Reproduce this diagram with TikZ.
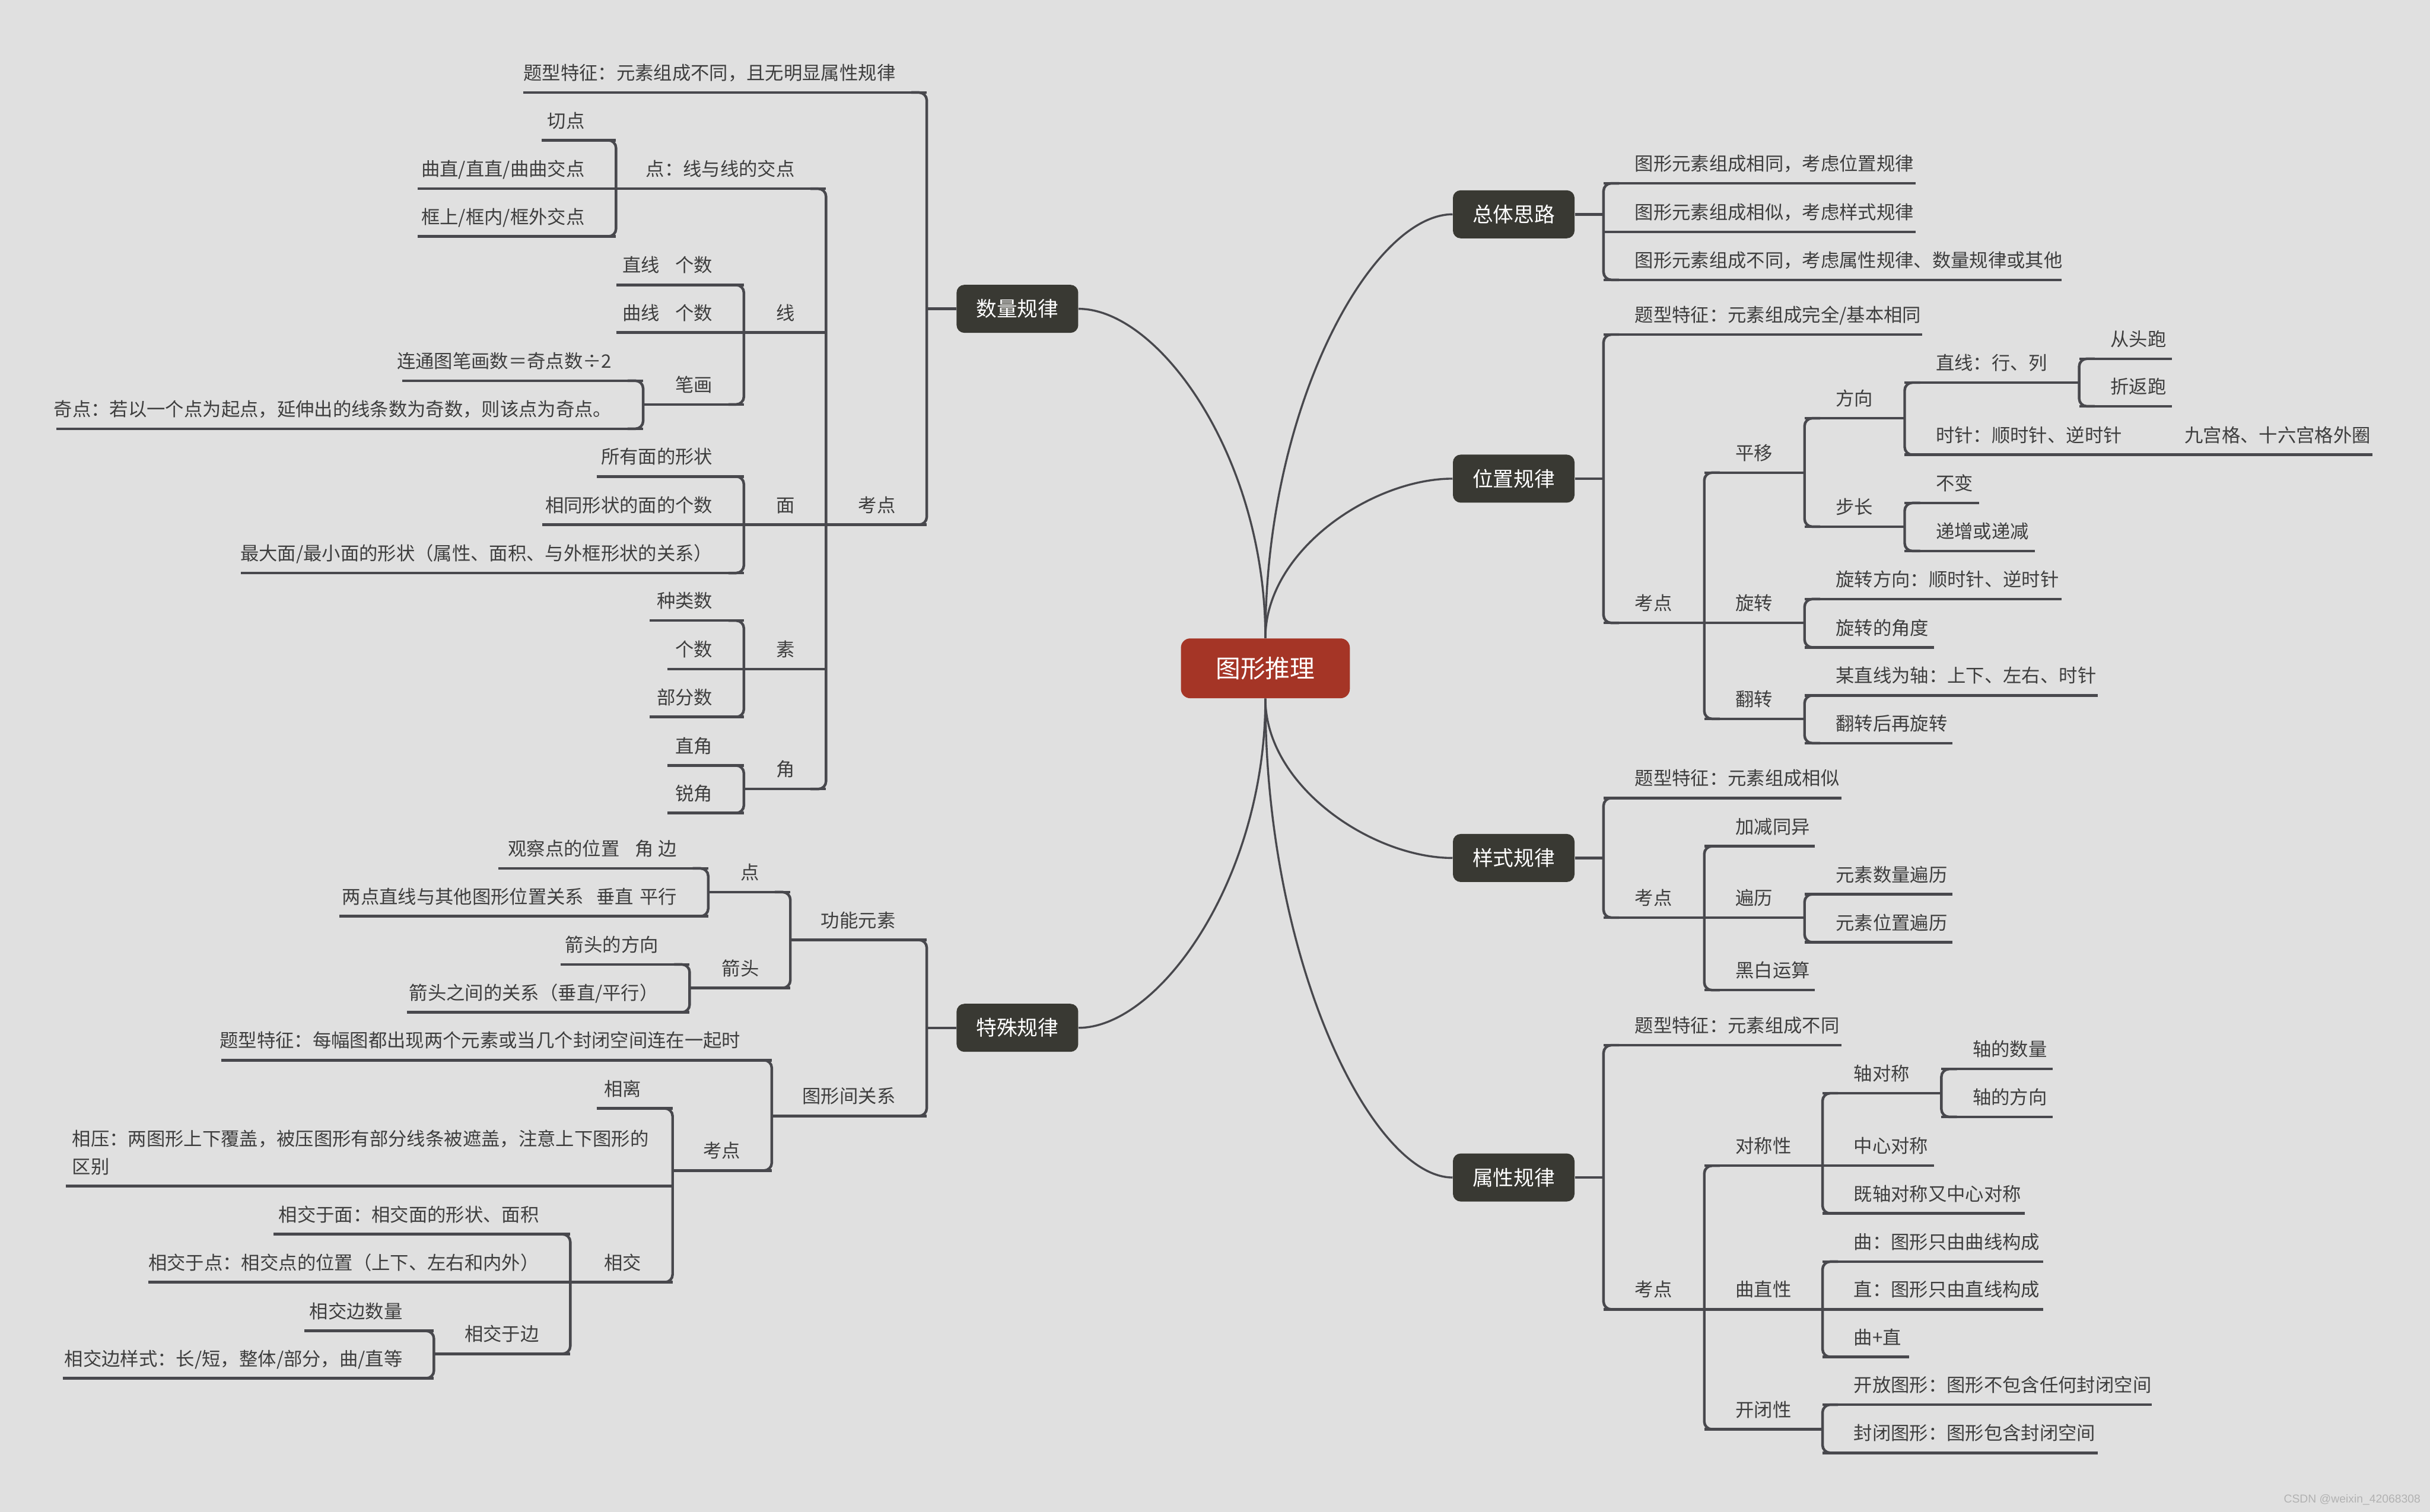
\documentclass[tikz,border=0pt]{standalone}
\usepackage{fontspec}
\setmainfont{Noto Sans CJK SC}
\newfontfamily\wmfont{Liberation Sans}
\usetikzlibrary{calc}
\setlength{\parindent}{0pt}
\definecolor{bgc}{RGB}{224,224,224}
\definecolor{linec}{RGB}{72,72,77}
\definecolor{txtc}{RGB}{62,62,62}
\definecolor{boxc}{RGB}{57,57,51}
\definecolor{rootc}{RGB}{165,53,38}
\definecolor{wmc}{RGB}{178,178,178}
\pgfdeclarelayer{bglayer}
\pgfdeclarelayer{edgelayer}
\pgfsetlayers{bglayer,edgelayer,main}
\tikzset{
  topicbase/.style={inner xsep=0pt, inner ysep=0pt, text depth=8pt, font=\fontsize{12}{18}\selectfont, text=txtc},
  rtopic/.style={topicbase, anchor=south west},
  ltopic/.style={topicbase, anchor=south east},
  uline/.style={draw=linec, line width=1.7pt},
  curveline/.style={draw=linec, line width=1.3pt},
  mainbox/.style={fill=boxc, rounded corners=5pt, minimum width=78.5pt, minimum height=31pt, inner sep=0pt, text=white, font=\fontsize{13.3}{16}\selectfont},
  rootbox/.style={fill=rootc, rounded corners=6pt, minimum width=109pt, minimum height=38.6pt, inner sep=0pt, text=white, font=\fontsize{16}{20}\selectfont},
}
% right-side topic: name, bracket x, underline y, right end x, text
\newcommand{\rtp}[5]{\pgfmathsetmacro{\mytw}{#4-(#2)}%
  \node[rtopic] (#1) at (#2,#3) {\makebox[\mytw pt][l]{\kern20pt #5}};
  \draw[uline] (#1.south west) -- (#1.south east);}
% left-side topic: name, left end x, underline y, bracket x, text
\newcommand{\ltp}[5]{\pgfmathsetmacro{\mytw}{#4-(#2)}%
  \node[ltopic] (#1) at (#4,#3) {\makebox[\mytw pt][r]{#5\kern20pt}};
  \draw[uline] (#1.south west) -- (#1.south east);}
\newcommand{\rbr}[2]{\draw[uline, rounded corners=5pt] ($(#1.south west)+(10,0)$) -- (#1.south west) -- (#2.south west) -- ($(#2.south west)+(10,0)$);}
\newcommand{\lbr}[2]{\draw[uline, rounded corners=5pt] ($(#1.south east)+(-10,0)$) -- (#1.south east) -- (#2.south east) -- ($(#2.south east)+(-10,0)$);}
\newcommand{\mcurve}[2]{\draw[curveline] (#1) .. controls ($(#1)!0.55!(#1|-#2)$) and ($(#1|-#2)!0.57!(#2)$) .. (#2);}

\begin{document}
\begin{tikzpicture}[x=1pt, y=-1pt]
\useasboundingbox (0,0) rectangle (1568,975.6);
\begin{pgfonlayer}{bglayer}
\fill[bgc] (0,0) rectangle (1568,975.6);
\end{pgfonlayer}

% root and main topics
\node[rootbox] (root) at (816.5,431.3) {图形推理};
\node[mainbox] (m1) at (656.5,199.3) {数量规律};
\node[mainbox] (m4) at (656.5,663.3) {特殊规律};
\node[mainbox] (m2) at (976.75,138.3) {总体思路};
\node[mainbox] (m3) at (976.75,308.9) {位置规律};
\node[mainbox] (m5) at (976.75,553.7) {样式规律};
\node[mainbox] (m6) at (976.75,759.9) {属性规律};

\begin{pgfonlayer}{edgelayer}
\mcurve{root.north}{m1.east}
\mcurve{root.north}{m2.west}
\mcurve{root.north}{m3.west}
\mcurve{root.south}{m4.east}
\mcurve{root.south}{m5.west}
\mcurve{root.south}{m6.west}
\end{pgfonlayer}

% ===== 数量规律 =====
\ltp{q1}{338}{59.7}{598}{题型特征：元素组成不同，且无明显属性规律}
\ltp{qk}{533}{338.6}{598}{考点}
\ltp{qd}{397.5}{121.8}{533}{点：线与线的交点}
\ltp{qd1}{350}{90.5}{397.5}{切点}
\ltp{qd2}{270}{121.8}{397.5}{曲直/直直/曲曲交点}
\ltp{qd3}{270}{152.6}{397.5}{框上/框内/框外交点}
\ltp{qx}{480}{214.6}{533}{线}
\ltp{qx1}{398}{183.9}{480}{直线\kern10pt 个数}
\ltp{qx2}{398}{214.6}{480}{曲线\kern10pt 个数}
\ltp{qx3}{415}{261}{480}{笔画}
\ltp{qx31}{260}{245.7}{415}{连通图笔画数＝奇点数÷2}
\ltp{qx32}{36.8}{276.7}{415}{奇点：若以一个点为起点，延伸出的线条数为奇数，则该点为奇点。}
\ltp{qm}{480}{338.6}{533}{面}
\ltp{qm1}{385.4}{307.5}{480}{所有面的形状}
\ltp{qm2}{350.2}{338.6}{480}{相同形状的面的个数}
\ltp{qm3}{156}{369.8}{480}{最大面/最小面的形状（属性、面积、与外框形状的关系）}
\ltp{qs}{480}{431.7}{533}{素}
\ltp{qs1}{419.6}{400.5}{480}{种类数}
\ltp{qs2}{431}{431.7}{480}{个数}
\ltp{qs3}{419.6}{462.7}{480}{部分数}
\ltp{qj}{480}{509.2}{533}{角}
\ltp{qj1}{431}{494}{480}{直角}
\ltp{qj2}{431}{524.7}{480}{锐角}
\draw[uline] (m1.west) -- (m1.west -| q1.south east);
\lbr{q1}{qk}
\lbr{qd}{qj}
\lbr{qd1}{qd3}
\lbr{qx1}{qx3}
\lbr{qx31}{qx32}
\lbr{qm1}{qm3}
\lbr{qs1}{qs3}
\lbr{qj1}{qj2}

% ===== 特殊规律 =====
\ltp{tg}{510}{606.6}{598}{功能元素}
\ltp{tgd}{457}{575.7}{510}{点}
\ltp{tgd1}{322}{560.4}{457}{观察点的位置\kern10pt 角\kern3pt 边}
\ltp{tgd2}{219.3}{591.3}{457}{两点直线与其他图形位置关系\kern8pt 垂直\kern4pt 平行}
\ltp{tga}{445}{637.6}{510}{箭头}
\ltp{tga1}{362}{622.4}{445}{箭头的方向}
\ltp{tga2}{263}{653.3}{445}{箭头之间的关系（垂直/平行）}
\ltp{tr}{498}{720.2}{598}{图形间关系}
\ltp{tr1}{143.3}{684.2}{498}{题型特征：每幅图都出现两个元素或当几个封闭空间连在一起时}
\ltp{trk}{434}{755.4}{498}{考点}
\ltp{trk1}{385.4}{715.3}{434}{相离}
\node[topicbase, text depth=26pt, anchor=south east, text width=391.2pt, align=left] (trk2) at (434,765.5)
  {\hspace*{4pt}相压：两图形上下覆盖，被压图形有部分线条被遮盖，注意上下图形的\\\hspace*{4pt}区别};
\draw[uline] (trk2.south west) -- (trk2.south east);
\ltp{trk3}{368}{827.5}{434}{相交}
\ltp{trk31}{177}{796.5}{368}{相交于面：相交面的形状、面积}
\ltp{trk32}{96}{827.5}{368}{相交于点：相交点的位置（上下、左右和内外）}
\ltp{trk33}{280}{873.7}{368}{相交于边}
\ltp{trk331}{196.9}{858.9}{280}{相交边数量}
\ltp{trk332}{40.8}{889.5}{280}{相交边样式：长/短，整体/部分，曲/直等}
\draw[uline] (m4.west) -- (m4.west -| tg.south east);
\lbr{tg}{tr}
\lbr{tgd}{tga}
\lbr{tgd1}{tgd2}
\lbr{tga1}{tga2}
\lbr{tr1}{trk}
\lbr{trk1}{trk3}
\lbr{trk31}{trk33}
\lbr{trk331}{trk332}

% ===== 总体思路 =====
\rtp{z1}{1034.7}{118.3}{1235.8}{图形元素组成相同，考虑位置规律}
\rtp{z2}{1034.7}{149.6}{1235.8}{图形元素组成相似，考虑样式规律}
\rtp{z3}{1034.7}{180.6}{1330}{图形元素组成不同，考虑属性规律、数量规律或其他}
\draw[uline] (m2.east) -- (m2.east -| z1.south west);
\rbr{z1}{z3}

% ===== 位置规律 =====
\rtp{w1}{1034.7}{215.9}{1240}{题型特征：元素组成完全/基本相同}
\rtp{wk}{1034.7}{402}{1099.7}{考点}
\rtp{wp}{1099.7}{305}{1164.4}{平移}
\rtp{wpf}{1164.4}{269.9}{1229}{方向}
\rtp{wpf1}{1229}{246.9}{1341.6}{直线：行、列}
\rtp{wpf11}{1341.6}{231.5}{1401}{从头跑}
\rtp{wpf12}{1341.6}{262.2}{1401}{折返跑}
\rtp{wpf2}{1229}{293.5}{1389.5}{时针：顺时针、逆时针}
\rtp{wpf21}{1389.5}{293.5}{1530.5}{九宫格、十六宫格外圈}
\rtp{wpb}{1164.4}{339.9}{1229}{步长}
\rtp{wpb1}{1229}{324.6}{1276.6}{不变}
\rtp{wpb2}{1229}{355.6}{1312.5}{递增或递减}
\rtp{wr}{1099.7}{402}{1164.4}{旋转}
\rtp{wr1}{1164.4}{386.6}{1330}{旋转方向：顺时针、逆时针}
\rtp{wr2}{1164.4}{417.8}{1247.4}{旋转的角度}
\rtp{wf}{1099.7}{463.9}{1164.4}{翻转}
\rtp{wf1}{1164.4}{448.8}{1353.3}{某直线为轴：上下、左右、时针}
\rtp{wf2}{1164.4}{479.6}{1259.5}{翻转后再旋转}
\draw[uline] (m3.east) -- (m3.east -| w1.south west);
\rbr{w1}{wk}
\rbr{wp}{wf}
\rbr{wpf}{wpb}
\rbr{wpf1}{wpf2}
\rbr{wpf11}{wpf12}
\rbr{wpb1}{wpb2}
\rbr{wr1}{wr2}
\rbr{wf1}{wf2}

% ===== 样式规律 =====
\rtp{y1}{1034.7}{515}{1188}{题型特征：元素组成相似}
\rtp{yk}{1034.7}{592.2}{1099.7}{考点}
\rtp{ya}{1099.7}{546.1}{1170.6}{加减同异}
\rtp{yb}{1099.7}{592.2}{1164.4}{遍历}
\rtp{yb1}{1164.4}{577.1}{1259.5}{元素数量遍历}
\rtp{yb2}{1164.4}{608.1}{1259.5}{元素位置遍历}
\rtp{yc}{1099.7}{639}{1170.6}{黑白运算}
\draw[uline] (m5.east) -- (m5.east -| y1.south west);
\rbr{y1}{yk}
\rbr{ya}{yc}
\rbr{yb1}{yb2}

% ===== 属性规律 =====
\rtp{s1}{1034.7}{674.5}{1188}{题型特征：元素组成不同}
\rtp{sk}{1034.7}{845}{1099.7}{考点}
\rtp{sa}{1099.7}{752.3}{1176}{对称性}
\rtp{sa1}{1176}{705.5}{1252.7}{轴对称}
\rtp{sa11}{1252.7}{689.9}{1324}{轴的数量}
\rtp{sa12}{1252.7}{720.8}{1324}{轴的方向}
\rtp{sa2}{1176}{752.3}{1247.4}{中心对称}
\rtp{sa3}{1176}{783.1}{1306}{既轴对称又中心对称}
\rtp{sb}{1099.7}{845}{1176}{曲直性}
\rtp{sb1}{1176}{814.2}{1318}{曲：图形只由曲线构成}
\rtp{sb2}{1176}{845}{1318}{直：图形只由直线构成}
\rtp{sb3}{1176}{875.7}{1231.5}{曲+直}
\rtp{sc}{1099.7}{922.4}{1176}{开闭性}
\rtp{sc1}{1176}{906.5}{1388.2}{开放图形：图形不包含任何封闭空间}
\rtp{sc2}{1176}{937.6}{1353.3}{封闭图形：图形包含封闭空间}
\draw[uline] (m6.east) -- (m6.east -| s1.south west);
\rbr{s1}{sk}
\rbr{sa}{sc}
\rbr{sa1}{sa3}
\rbr{sa11}{sa12}
\rbr{sb1}{sb3}
\rbr{sc1}{sc2}

% watermark
\node[anchor=east, inner sep=0pt, text=wmc, font=\wmfont\fontsize{7.4}{9}\selectfont] (wm) at (1562,968) {CSDN @weixin\_42068308};
\end{tikzpicture}
\end{document}
